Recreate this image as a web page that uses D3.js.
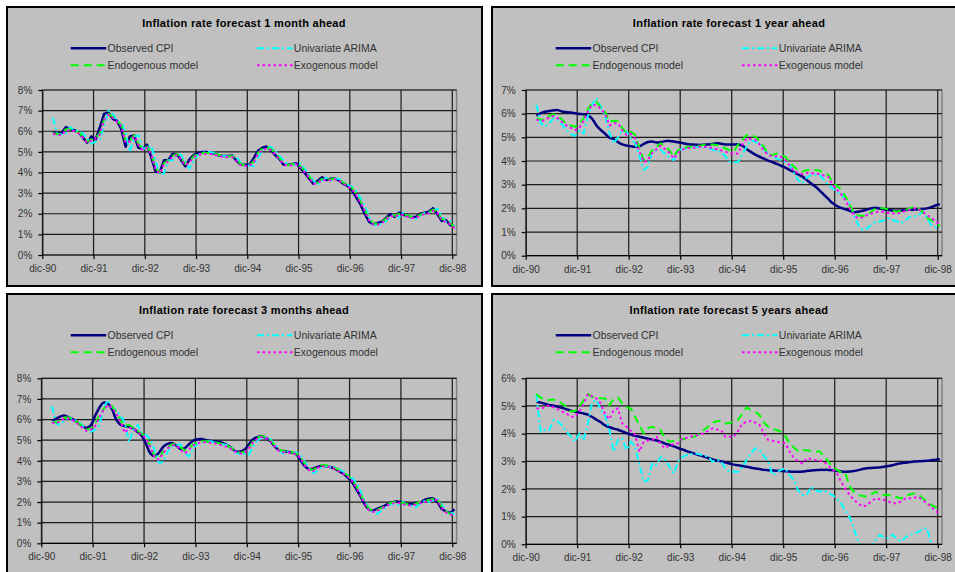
<!DOCTYPE html>
<html><head><meta charset="utf-8">
<script src="https://cdn.jsdelivr.net/npm/d3@7"></script>
<style>body{margin:0;background:#fff}svg{display:block;font-family:"Liberation Sans",Arial,sans-serif}</style>
</head><body><svg id="c" width="955" height="572"></svg>
<script>
// Category axis: month index 0 = dic-90 ... 96 = dic-98 ; data start at index 2
const tickLabels = ["dic-90","dic-91","dic-92","dic-93","dic-94","dic-95","dic-96","dic-97","dic-98"];
const firstMonth = 2;
const seriesNames = ["Observed CPI","Univariate ARIMA","Endogenous model","Exogenous model"];

// ---- 1 month ahead ----
const obs1m = [5.95,5.9,5.9,6.2,6.1,6.05,5.95,5.7,5.45,5.75,
 5.6,6.2,6.85,6.9,6.6,6.5,6.1,5.25,5.75,5.8,5.2,5.15,
 5.35,4.75,4.05,4.0,4.6,4.6,4.9,4.9,4.6,4.3,4.65,4.85,
 4.95,5.0,5.0,4.97,4.9,4.82,4.8,4.8,4.82,4.55,4.37,4.37,
 4.37,4.7,5.05,5.2,5.26,5.1,4.85,4.66,4.37,4.38,4.4,4.45,
 4.2,3.97,3.7,3.45,3.6,3.77,3.64,3.7,3.72,3.6,3.45,3.35,
 3.15,2.8,2.45,2.0,1.62,1.49,1.55,1.62,1.8,1.99,1.85,2.05,
 1.95,1.9,1.83,1.85,2.0,2.05,2.1,2.27,1.99,1.65,1.7,1.45,
 1.4];
const arima1m = [6.65,5.85,5.85,5.9,6.2,6.05,6.0,5.9,5.65,5.4,
 5.5,5.6,6.3,7.0,6.85,6.5,6.4,5.95,5.0,5.75,5.8,5.15,
 5.2,5.3,4.6,3.9,3.95,4.6,4.6,4.9,4.85,4.5,4.2,4.6,
 4.85,4.95,5.0,4.98,4.95,4.85,4.8,4.78,4.8,4.75,4.45,4.3,
 4.35,4.3,4.7,5.05,5.2,5.25,5.05,4.8,4.6,4.35,4.37,4.42,
 4.45,4.15,3.9,3.6,3.4,3.6,3.75,3.6,3.7,3.7,3.55,3.4,
 3.3,3.1,2.75,2.35,1.9,1.5,1.42,1.55,1.65,1.85,2.0,1.8,
 2.05,1.9,1.85,1.75,1.9,2.05,2.05,2.15,2.25,1.9,1.6,1.65,
 1.35];
const endo1m = [5.9,5.85,5.85,6.1,6.1,6.0,5.95,5.75,5.5,5.6,
 5.7,5.9,6.6,6.85,6.7,6.5,6.3,5.5,5.55,5.8,5.4,5.15,
 5.25,4.95,4.2,4.0,4.45,4.6,4.8,4.9,4.7,4.4,4.55,4.8,
 4.9,4.95,4.95,4.95,4.9,4.85,4.8,4.78,4.8,4.6,4.4,4.35,
 4.35,4.55,4.95,5.15,5.2,5.15,4.95,4.7,4.45,4.35,4.4,4.42,
 4.3,4.05,3.8,3.5,3.5,3.7,3.68,3.66,3.72,3.65,3.5,3.4,
 3.25,2.95,2.6,2.2,1.75,1.55,1.5,1.6,1.75,1.95,1.9,2.0,
 2.0,1.9,1.85,1.83,1.95,2.03,2.07,2.2,2.1,1.75,1.65,1.55,
 1.35];
const exo1m = [5.85,5.85,5.8,6.05,6.05,6.0,5.9,5.7,5.45,5.55,
 5.65,5.85,6.55,6.8,6.65,6.45,6.25,5.45,5.5,5.75,5.35,5.1,
 5.2,4.9,4.15,3.95,4.4,4.55,4.75,4.85,4.65,4.35,4.5,4.75,
 4.85,4.9,4.9,4.9,4.85,4.8,4.75,4.75,4.75,4.55,4.35,4.32,
 4.32,4.5,4.9,5.1,5.15,5.1,4.9,4.65,4.4,4.32,4.35,4.4,
 4.25,4.0,3.75,3.45,3.48,3.65,3.62,3.62,3.68,3.6,3.45,3.35,
 3.2,2.9,2.55,2.15,1.7,1.5,1.47,1.55,1.7,1.9,1.85,1.95,
 1.95,1.85,1.8,1.8,1.9,2.0,2.03,2.15,2.05,1.7,1.6,1.5,
 1.3];

// ---- 1 year ahead ----
const obs1y = [5.91,6.02,6.08,6.11,6.14,6.15,6.09,6.07,6.05,6.02,
 5.99,5.97,5.93,5.78,5.5,5.31,5.15,4.99,4.93,4.8,4.7,4.65,
 4.62,4.6,4.62,4.72,4.8,4.82,4.78,4.8,4.84,4.85,4.82,4.79,
 4.76,4.72,4.7,4.69,4.68,4.69,4.7,4.72,4.75,4.73,4.7,4.7,
 4.7,4.7,4.65,4.5,4.38,4.27,4.18,4.1,4.02,3.95,3.88,3.8,
 3.72,3.62,3.53,3.43,3.34,3.2,3.05,2.92,2.75,2.57,2.4,2.22,
 2.1,2.02,1.96,1.9,1.84,1.86,1.9,1.95,2.0,2.03,1.99,1.96,
 1.93,1.91,1.9,1.91,1.93,1.94,1.95,1.96,1.97,2.0,2.05,2.12,
 2.18];
const arima1y = [6.37,5.59,5.45,5.6,5.8,5.75,5.55,5.3,5.15,5.06,
 5.3,5.17,5.9,6.4,6.65,6.3,5.9,5.2,4.75,5.0,5.3,5.24,
 4.95,4.75,4.2,3.62,3.76,4.4,4.45,4.47,4.3,4.15,4.04,4.47,
 4.5,4.55,4.58,4.58,4.6,4.6,4.55,4.48,4.42,4.4,4.2,3.97,
 3.95,3.97,4.3,4.61,4.89,4.8,4.75,4.5,4.3,4.18,4.1,4.04,
 3.95,3.83,3.5,3.2,3.06,3.3,3.41,3.42,3.41,3.2,2.99,2.85,
 2.7,2.6,2.4,2.21,1.7,1.3,1.08,1.15,1.3,1.44,1.44,1.5,
 1.58,1.51,1.45,1.37,1.5,1.65,1.65,1.7,1.86,1.6,1.3,1.2,
 1.15];
const endo1y = [5.8,5.75,5.73,5.9,5.98,5.9,5.75,5.55,5.5,5.45,
 5.6,5.8,6.2,6.44,6.5,6.25,6.08,5.66,5.7,5.68,5.4,5.17,
 5.24,5.1,4.54,4.04,4.18,4.45,4.6,4.75,4.6,4.45,4.18,4.45,
 4.54,4.58,4.6,4.62,4.65,4.68,4.7,4.7,4.68,4.62,4.54,4.45,
 4.4,4.7,4.89,5.1,5.05,5.03,4.85,4.6,4.3,4.25,4.32,4.25,
 4.18,3.95,3.76,3.6,3.55,3.62,3.62,3.62,3.6,3.5,3.41,3.1,
 2.95,2.8,2.5,2.14,1.79,1.7,1.68,1.72,1.85,2.0,2.0,2.0,
 1.95,1.9,1.86,1.9,1.93,2.0,2.07,2.0,1.85,1.6,1.5,1.4,
 1.25];
const exo1y = [5.75,5.7,5.72,5.85,5.9,5.8,5.65,5.5,5.4,5.3,
 5.4,5.7,6.1,6.38,6.35,6.2,6.0,5.5,5.6,5.6,5.3,5.1,
 5.15,4.95,4.4,3.95,4.05,4.35,4.5,4.65,4.5,4.35,4.1,4.35,
 4.48,4.55,4.55,4.57,4.6,4.6,4.58,4.55,4.5,4.45,4.4,4.32,
 4.3,4.32,4.7,4.96,4.92,4.89,4.7,4.45,4.25,4.2,4.2,4.18,
 4.05,3.8,3.6,3.48,3.45,3.5,3.48,3.48,3.45,3.38,3.34,3.0,
 2.8,2.6,2.35,2.0,1.7,1.58,1.62,1.72,1.78,1.84,1.86,1.84,
 1.8,1.79,1.78,1.82,1.9,1.95,2.0,1.98,1.85,1.72,1.6,1.45,
 1.3];

// ---- 3 months ahead ----
const obs3m = [5.93,6.05,6.15,6.19,6.1,6.0,5.85,5.7,5.6,5.7,
 6.15,6.55,6.82,6.78,6.5,6.0,5.75,5.68,5.66,5.55,5.4,5.2,
 4.8,4.35,4.23,4.4,4.68,4.82,4.86,4.75,4.57,4.62,4.8,4.98,
 5.04,5.06,5.0,4.96,4.95,4.93,4.85,4.75,4.6,4.45,4.45,4.55,
 4.8,5.05,5.15,5.2,5.1,4.95,4.7,4.52,4.48,4.44,4.4,4.33,
 4.05,3.75,3.6,3.62,3.7,3.76,3.74,3.7,3.62,3.5,3.38,3.2,
 2.99,2.65,2.3,1.9,1.65,1.6,1.68,1.76,1.86,1.95,2.02,2.02,
 1.98,1.92,1.9,1.95,1.98,2.1,2.16,2.18,2.0,1.68,1.55,1.49,
 1.65];
const arima3m = [6.65,5.8,5.75,6.0,6.1,6.0,5.9,5.75,5.45,5.4,
 5.5,5.7,6.5,6.95,6.6,6.45,6.2,5.85,4.9,5.5,5.75,5.3,
 5.25,5.05,4.5,3.9,3.95,4.45,4.7,4.75,4.8,4.4,4.2,4.6,
 4.85,4.9,4.95,4.95,4.9,4.85,4.8,4.75,4.62,4.4,4.3,4.35,
 4.3,4.7,5.0,5.1,5.15,5.05,4.8,4.55,4.35,4.45,4.42,4.4,
 4.3,3.95,3.65,3.4,3.5,3.7,3.75,3.7,3.7,3.6,3.48,3.35,
 3.2,2.95,2.55,2.1,1.7,1.5,1.42,1.6,1.75,1.9,1.92,1.85,
 2.0,1.85,1.82,1.75,1.92,2.05,2.0,2.1,2.15,1.9,1.55,1.5,
 1.4];
const endo3m = [5.9,5.85,6.0,6.1,6.1,6.0,5.85,5.7,5.5,5.55,
 5.75,6.2,6.5,6.72,6.65,6.35,5.95,5.7,5.75,5.6,5.45,5.3,
 5.15,4.7,4.2,4.1,4.45,4.65,4.8,4.8,4.65,4.5,4.6,4.8,
 4.9,4.95,4.95,4.92,4.9,4.85,4.8,4.72,4.6,4.45,4.38,4.45,
 4.65,4.95,5.12,5.2,5.15,5.0,4.75,4.55,4.48,4.45,4.42,4.35,
 4.2,3.85,3.6,3.55,3.7,3.8,3.78,3.75,3.66,3.55,3.42,3.3,
 3.1,2.8,2.4,2.0,1.7,1.55,1.62,1.72,1.85,1.95,2.0,2.0,
 1.95,1.9,1.88,1.92,2.0,2.05,2.1,2.15,2.15,1.8,1.55,1.42,
 1.42];
const exo3m = [5.85,5.8,5.95,6.05,6.05,5.95,5.8,5.62,5.45,5.5,
 5.65,6.1,6.45,6.7,6.6,6.3,5.9,5.35,5.6,5.55,5.4,5.25,
 5.1,4.65,4.15,4.05,4.4,4.6,4.75,4.75,4.55,4.35,4.55,4.75,
 4.85,4.9,4.9,4.88,4.85,4.8,4.72,4.68,4.55,4.42,4.35,4.4,
 4.6,4.9,5.08,5.15,5.1,4.95,4.7,4.5,4.42,4.4,4.38,4.32,
 4.15,3.8,3.55,3.5,3.65,3.75,3.72,3.7,3.62,3.5,3.38,3.25,
 3.05,2.75,2.35,1.95,1.62,1.52,1.58,1.68,1.8,1.9,1.95,1.95,
 1.9,1.85,1.82,1.88,1.95,2.0,2.05,2.1,2.1,1.75,1.5,1.4,
 1.38];

// ---- 5 years ahead ----
const obs5y = [5.15,5.12,5.08,5.04,5.01,4.97,4.93,4.88,4.83,4.79,
 4.76,4.73,4.69,4.6,4.5,4.41,4.3,4.23,4.18,4.14,4.08,4.02,
 3.97,3.92,3.89,3.85,3.82,3.78,3.75,3.7,3.64,3.59,3.54,3.48,
 3.43,3.37,3.32,3.27,3.22,3.17,3.12,3.07,3.03,3.0,2.96,2.92,
 2.88,2.86,2.83,2.8,2.77,2.74,2.72,2.69,2.68,2.67,2.66,2.65,
 2.64,2.63,2.62,2.62,2.63,2.65,2.67,2.68,2.69,2.69,2.69,2.68,
 2.66,2.63,2.62,2.63,2.65,2.68,2.72,2.75,2.76,2.77,2.78,2.8,
 2.83,2.86,2.9,2.93,2.95,2.97,2.99,3.0,3.01,3.02,3.04,3.06,
 3.07];
const arima5y = [5.39,4.07,4.13,4.13,4.49,4.43,4.3,4.07,3.9,3.71,
 4.01,3.77,4.37,5.15,5.21,4.85,4.67,4.13,3.35,3.77,3.83,3.41,
 3.71,3.53,2.87,2.26,2.32,2.93,2.87,3.17,3.05,2.8,2.56,2.99,
 3.15,3.23,3.26,3.29,3.25,3.2,3.17,2.99,3.05,3.0,2.75,2.62,
 2.62,2.62,2.8,3.05,3.3,3.47,3.41,3.2,3.0,2.5,2.6,2.69,
 2.75,2.5,2.32,1.95,1.78,1.78,2.08,1.95,1.9,1.96,1.85,1.78,
 1.65,1.48,1.2,0.98,0.55,0.1,-0.2,-0.25,-0.05,0.15,0.34,0.25,
 0.22,0.34,0.2,0.1,0.25,0.34,0.4,0.45,0.55,0.58,0.02,-0.2,
 -0.3];
const endo5y = [5.43,5.3,5.21,5.22,5.23,5.19,5.08,4.97,4.8,4.82,
 4.97,5.2,5.43,5.33,5.3,5.28,5.27,5.03,5.25,5.31,5.09,4.95,
 4.91,4.6,4.3,4.01,4.2,4.25,4.19,4.12,3.8,3.72,3.73,3.77,
 3.8,3.83,3.85,3.9,4.0,4.13,4.25,4.4,4.45,4.47,4.37,4.38,
 4.45,4.5,4.73,4.95,4.85,4.79,4.67,4.4,4.25,4.15,4.13,4.07,
 3.9,3.65,3.5,3.37,3.41,3.4,3.37,3.36,3.35,3.2,2.99,2.8,
 2.69,2.6,2.57,2.08,1.9,1.78,1.75,1.72,1.8,1.9,1.82,1.78,
 1.78,1.76,1.7,1.66,1.75,1.8,1.84,1.8,1.66,1.55,1.42,1.34,
 1.3];
const exo5y = [4.91,4.91,4.95,5.03,4.95,4.88,4.8,4.73,4.61,4.61,
 4.8,5.09,5.43,5.35,5.27,5.09,4.7,4.52,4.85,4.91,4.37,4.25,
 4.1,3.95,3.35,3.71,3.75,3.77,3.89,3.6,3.47,3.59,3.62,3.65,
 3.83,3.85,3.89,3.92,3.98,4.01,4.1,4.19,4.15,4.13,3.89,3.89,
 3.89,4.1,4.37,4.42,4.47,4.4,4.31,4.0,3.77,3.74,3.71,3.68,
 3.65,3.35,3.11,3.0,2.93,3.11,3.08,3.05,3.02,2.99,2.85,2.7,
 2.57,2.26,2.0,1.78,1.6,1.48,1.36,1.42,1.55,1.66,1.63,1.6,
 1.55,1.48,1.48,1.55,1.66,1.66,1.68,1.72,1.6,1.48,1.36,1.2,
 1.1];

const seriesColor = ["#000080","#00ffff","#00ff00","#ff00ff"];
const seriesDash  = [null,"7,3,2,3","8,5","2.5,3"];
const seriesWidth = [2.5,2,2,2];

const panels = [
 {title:"Inflation rate forecast 1 month ahead", box:[7,7,475,279], axisX:42.3, endX:452.3, yTop:90, yZero:255, maxPct:8, smooth:false, data:[obs1m,arima1m,endo1m,exo1m]},
 {title:"Inflation rate forecast 1 year ahead", box:[492,7,475,279], axisX:525.7, endX:937.7, yTop:90, yZero:255.7, maxPct:7, smooth:true, data:[obs1y,arima1y,endo1y,exo1y]},
 {title:"Inflation rate forecast 3 months ahead", box:[7,294,475,300], axisX:41.3, endX:452.3, yTop:378.3, yZero:543.3, maxPct:8, smooth:true, data:[obs3m,arima3m,endo3m,exo3m]},
 {title:"Inflation rate forecast 5 years ahead", box:[492,294,475,300], axisX:525.7, endX:937.7, yTop:378.3, yZero:544.3, maxPct:6, smooth:true, data:[obs5y,arima5y,endo5y,exo5y]}
];

const svg = d3.select("#c");
svg.append("rect").attr("width",955).attr("height",572).attr("fill","#fff");

panels.forEach((p,pi)=>{
  const [bx,by,bw,bh] = p.box;
  const g = svg.append("g");
  g.append("rect").attr("x",bx).attr("y",by).attr("width",bw).attr("height",bh)
    .attr("fill","#c0c0c0").attr("stroke","#000").attr("stroke-width",2);

  const nCat = (tickLabels.length-1)*12;
  const x = d3.scaleLinear().domain([0,nCat]).range([p.axisX,p.endX]);
  const y = d3.scaleLinear().domain([0,p.maxPct]).range([p.yZero,p.yTop]);
  const plotRight = x(nCat+1);

  g.append("rect").attr("x",p.axisX).attr("y",p.yTop).attr("width",plotRight-p.axisX).attr("height",p.yZero-p.yTop)
    .attr("fill","#c0c0c0").attr("stroke","#808080").attr("stroke-width",1.5);

  const yTicks = d3.range(0,p.maxPct+1);
  g.append("g").selectAll("line").data(yTicks.filter(d=>d>0)).join("line")
    .attr("x1",p.axisX).attr("x2",plotRight).attr("y1",d=>y(d)).attr("y2",d=>y(d))
    .attr("stroke","#1a1a1a").attr("stroke-width",1.2);
  const xTicks = tickLabels.map((t,i)=>i*12);
  g.append("g").selectAll("line").data(xTicks.slice(1)).join("line")
    .attr("x1",d=>x(d)).attr("x2",d=>x(d)).attr("y1",p.yTop).attr("y2",p.yZero)
    .attr("stroke","#1a1a1a").attr("stroke-width",1.2);

  const cid = "clip"+pi;
  g.append("clipPath").attr("id",cid).append("rect")
    .attr("x",p.axisX).attr("y",p.yTop-2).attr("width",plotRight-p.axisX).attr("height",p.yZero-p.yTop+2);

  const lines = g.append("g").attr("clip-path",`url(#${cid})`);
  p.data.forEach((arr,si)=>{
    const line = d3.line().x((d,i)=>x(firstMonth+i+0.5)).y(d=>y(d))
      .curve(p.smooth && si===0 ? d3.curveCatmullRom : d3.curveLinear);
    lines.append("path").datum(arr).attr("d",line).attr("fill","none")
      .attr("stroke",seriesColor[si]).attr("stroke-width",seriesWidth[si])
      .attr("stroke-dasharray",seriesDash[si]).attr("stroke-linejoin","round");
  });

  const ya = d3.axisLeft(y).tickValues(yTicks).tickFormat(d=>d+"%").tickSize(4).tickSizeOuter(0).tickPadding(6);
  const yg = g.append("g").attr("transform",`translate(${p.axisX},0)`).call(ya);
  const xa = d3.axisBottom(x).tickValues(xTicks).tickFormat((d,i)=>tickLabels[i]).tickSize(4).tickSizeOuter(0).tickPadding(6);
  const xg = g.append("g").attr("transform",`translate(0,${p.yZero})`).call(xa);
  xg.select(".domain").attr("d",`M${p.axisX},0H${plotRight}`);
  [yg,xg].forEach(a=>{
    a.selectAll("path,line").attr("stroke","#000").attr("stroke-width",1.2);
    a.selectAll("text").attr("fill","#333").attr("font-size","10px").attr("font-family","Liberation Sans, Arial, sans-serif");
  });

  g.append("text").attr("x",bx+237).attr("y",by+20.3).attr("text-anchor","middle")
    .attr("font-size","11px").attr("font-weight","bold").attr("letter-spacing","0.3px").attr("fill","#000").text(p.title);

  const legPos = [[63.7,0],[250,0],[63.7,1],[250,1]];
  seriesNames.forEach((nm,si)=>{
    const lx = bx+legPos[si][0], ly = by+41.3+legPos[si][1]*17;
    g.append("line").attr("x1",lx).attr("x2",lx+35.5).attr("y1",ly).attr("y2",ly)
      .attr("stroke",seriesColor[si]).attr("stroke-width",seriesWidth[si]).attr("stroke-dasharray",seriesDash[si]);
    g.append("text").attr("x",lx+36.8).attr("y",ly+3.7).attr("font-size","10.5px").attr("fill","#333").text(nm);
  });
});
</script></body></html>
